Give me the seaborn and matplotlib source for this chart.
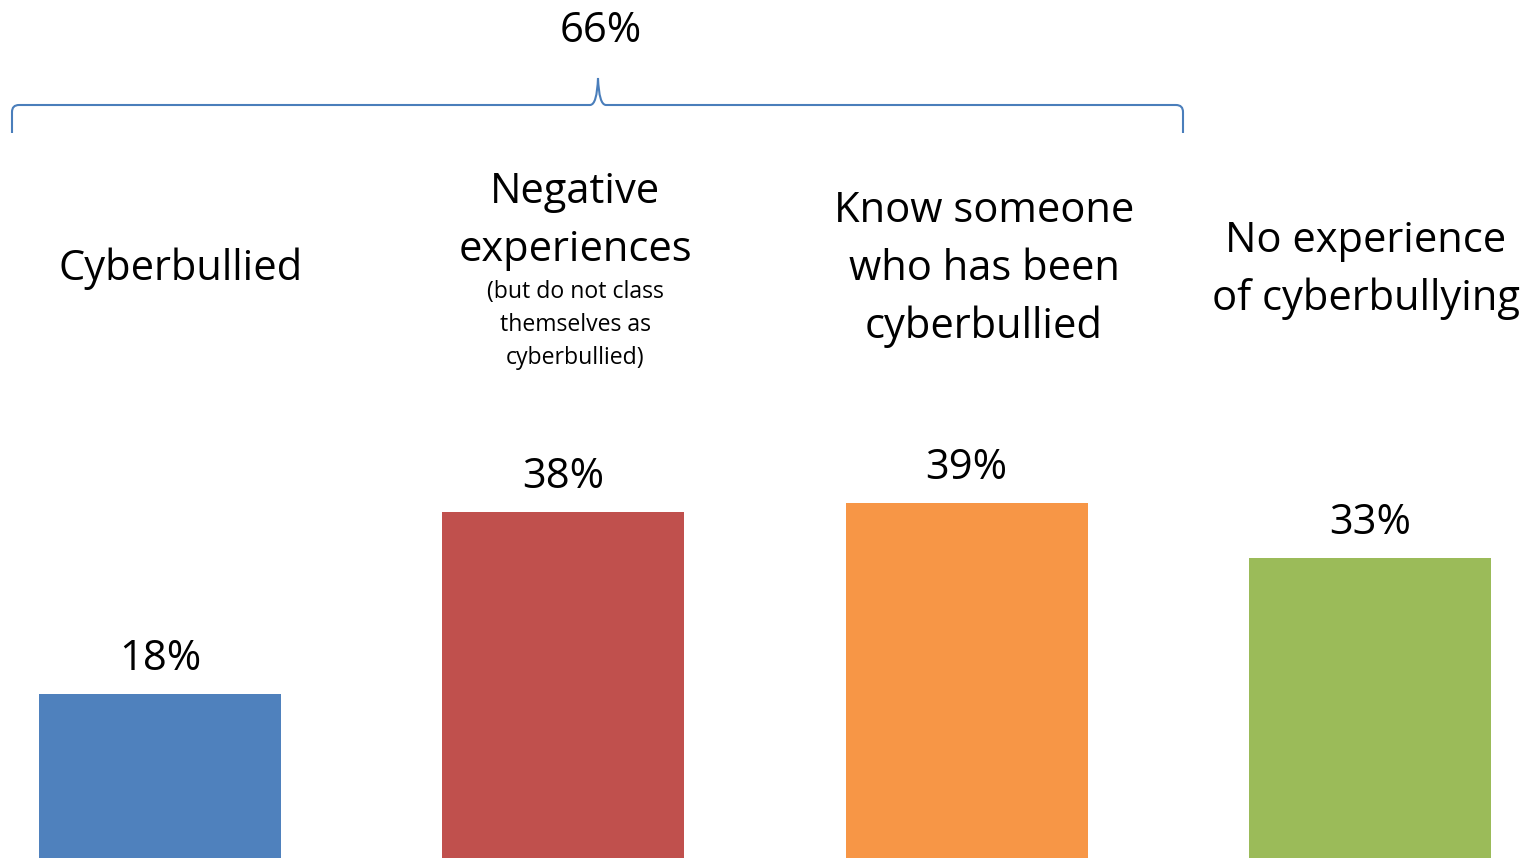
import matplotlib
matplotlib.use("Agg")
import matplotlib.pyplot as plt
from matplotlib.path import Path
from matplotlib.patches import PathPatch
import seaborn as sns
import pandas as pd

# Survey results
categories = ["Cyberbullied", "Negative experiences", "Know someone who has been cyberbullied",
              "No experience of cyberbullying"]
values = [18, 38, 39, 33]
colors = ["#4F81BD", "#C0504D", "#F79646", "#9BBB59"]
combined_label = "66%"

# Header text above each bar (main line(s), optional smaller note)
header_main = ["Cyberbullied", "Negative\nexperiences", "Know someone\nwho has been\ncyberbullied",
               "No experience\nof cyberbullying"]
header_note = ["", "(but do not class\nthemselves as\ncyberbullied)", "", ""]

sns.set_theme(style="white")
plt.rcParams["font.family"] = ["Open Sans", "DejaVu Sans"]

W, H = 1530, 858
fig = plt.figure(figsize=(W / 100, H / 100), dpi=100)
ax = fig.add_axes([0, 0, 1, 1])

df = pd.DataFrame({"category": categories, "value": values})
sns.barplot(data=df, x="category", y="value", hue="category", palette=colors,
            width=0.6, saturation=1, legend=False, linewidth=0, ax=ax)

step = 403.3
ax.set_xlim(-160 / step, (W - 160) / step)
ax.set_ylim(0, H / 9.1)
ax.axis("off")

# Value labels above bars
for i, v in enumerate(values):
    ax.annotate(f"{v}%", (i, v), xytext=(0, 25), textcoords="offset points",
                ha="center", va="center", fontsize=30, color="black")


def fx(px):
    return px / W


def fy(py):
    return 1 - py / H


# Category headers (pixel positions of text centres)
head_x = [181, 575, 984, 1366]
head_y = [269, 221, 269, 270]
for i in range(4):
    fig.text(fx(head_x[i]), fy(head_y[i]), header_main[i], ha="center", va="center",
             fontsize=30, linespacing=1.48, color="black")
fig.text(fx(575), fy(325), header_note[1], ha="center", va="center",
         fontsize=16.6, linespacing=1.52, color="black")

# Curly brace grouping the first three categories
left, right, tip, yb, yend, ytip, r = 12, 1183, 598, 105, 133, 78, 7
verts = [
    (left, yend), (left, yb + r), (left, yb), (left + r, yb),
    (tip - 8, yb), (tip - 1, yb), (tip, ytip),
    (tip + 1, yb), (tip + 8, yb),
    (right - r, yb), (right, yb), (right, yb + r), (right, yend),
]
codes = [Path.MOVETO, Path.LINETO, Path.CURVE3, Path.CURVE3,
         Path.LINETO, Path.CURVE3, Path.CURVE3,
         Path.CURVE3, Path.CURVE3,
         Path.LINETO, Path.CURVE3, Path.CURVE3, Path.LINETO]
path = Path([(fx(x), fy(y)) for x, y in verts], codes)
fig.add_artist(PathPatch(path, transform=fig.transFigure, fill=False,
                         edgecolor="#4A7EBB", linewidth=1.5))
fig.text(fx(601), fy(31), combined_label, ha="center", va="center",
         fontsize=30, color="black")

fig.savefig("out.png", dpi=100)
